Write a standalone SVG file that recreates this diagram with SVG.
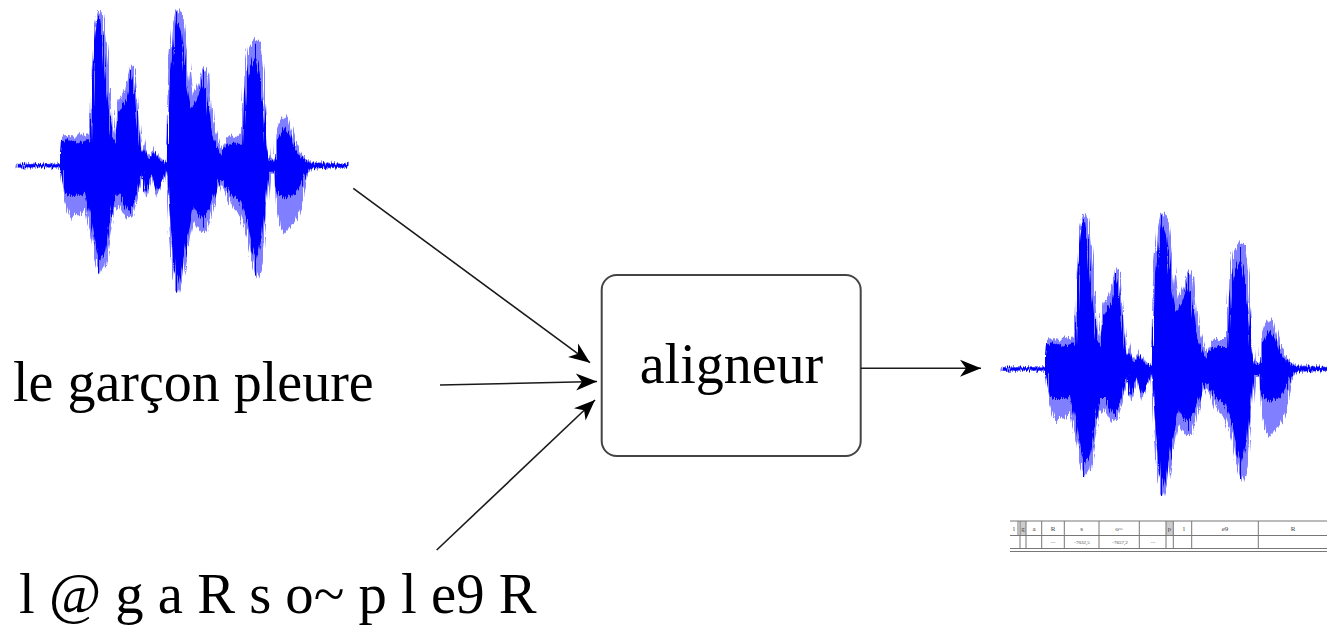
<svg xmlns="http://www.w3.org/2000/svg" width="1327" height="625" viewBox="0 0 1327 625">
<style>
.lbl{font-family:"Liberation Serif","Times New Roman",serif;font-size:56px;fill:#000}
.conn{stroke:#1a1a1a;stroke-width:1.6;fill:none}
.tl{stroke:#777;stroke-width:1;fill:none}
.tt{font-family:"Liberation Serif",serif;font-size:7px;fill:#444;text-anchor:middle}
.ts{font-family:"Liberation Serif",serif;font-size:5px;fill:#444;text-anchor:middle}
</style>
<defs>
<filter id="jag" x="-5%" y="-10%" width="110%" height="120%">
<feTurbulence type="fractalNoise" baseFrequency="0.9 0.015" numOctaves="2" seed="3" result="n"/>
<feDisplacementMap in="SourceGraphic" in2="n" scale="9" xChannelSelector="B" yChannelSelector="R"/>
</filter>
<filter id="jag2" x="-5%" y="-10%" width="110%" height="120%">
<feTurbulence type="fractalNoise" baseFrequency="0.7 0.015" numOctaves="2" seed="11" result="n"/>
<feDisplacementMap in="SourceGraphic" in2="n" scale="10" xChannelSelector="B" yChannelSelector="R"/>
</filter>
<marker id="ah" markerUnits="userSpaceOnUse" markerWidth="24" markerHeight="20" viewBox="-22 -10 24 20" refX="0" refY="0" orient="auto">
<path d="M0,0 L-21,-8.5 L-15,0 L-21,8.5 Z" fill="#000"/>
</marker>
<g id="wave">
<path fill="#7f7fff" filter="url(#jag2)" d="M6.7,-2 L50,-2 51.7,-30 56.7,-31 66.7,-30 76.7,-33 80,-30 81.7,-100 85,-140 88.3,-154 93.3,-150 96.7,-115 100,-80 101.7,-40 105,-30 108.3,-65 115,-75 120,-100 125,-98 128.3,-50 131.7,-15 135,-25 138.3,-10 145,-18 150,-8 156.7,-3 159.3,-100 163.3,-140 166.7,-156 173.3,-150 178.3,-100 181.7,-70 186.7,-80 193.3,-100 198.3,-90 201.7,-45 210,-15 215,-25 220,-30 231.7,-30 235,-100 238.3,-120 245,-126 250,-125 253.3,-90 256.7,-35 259.3,-6 265,-6 266.7,-35 270,-45 275,-52 280,-45 285,-25 291.7,-12 300,-4 338.3,-2 L338.3,2 301.7,3 296.7,10 291.7,40 286.7,55 280,60 275,68 270,62 266.7,35 265,8 259.3,8 256.7,40 251.7,100 246.7,113 241.7,95 236.7,70 230,50 221.7,42 215,25 210,18 200,55 196.7,66 190,66 183.3,55 178.3,80 173.3,110 168.3,129 163.3,115 159.3,60 156.7,5 146.7,30 143.3,10 135,33 131.7,8 128.3,30 123.3,50 116.7,53 110,40 105,45 100,70 95,100 89.3,110 85,95 80,65 75,45 66.7,50 60,52 55,35 51.7,15 50,2 6.7,2 Z"/>
<path fill="#0000ff" filter="url(#jag)" d="M6.7,-1.5 L50,-1.5 52,-26 60,-25 70,-23 78,-26 81,-23 84,-115 87,-146 90,-148 93,-125 96,-85 99,-55 102,-28 106,-23 109,-55 116,-65 121,-92 124,-85 127,-42 131,-11 135,-20 138,-7 145,-14 150,-5 157,-3 160,-88 164,-126 167,-146 171,-134 176,-86 181,-58 187,-66 193,-86 197,-70 201,-32 210,-11 216,-20 222,-22 233,-22 236,-74 240,-100 245,-108 249,-92 253,-62 256,-22 259,-5 265,-5 267,-27 271,-34 275,-38 280,-31 285,-16 292,-7 300,-3 338,-1.5 L338,1.5 301,2.5 296,8 291,20 286,28 280,30 275,32 270,30 267,20 265,6 259,6 256,30 252,70 247,95 242,80 237,55 230,35 222,30 215,20 210,14 201,40 196,50 190,52 184,40 179,65 174,95 169,120 164,105 160,50 157,4 147,25 143,8 135,28 132,6 128,25 123,40 117,45 110,30 105,30 100,55 95,85 90,100 85,80 80,50 75,28 67,30 60,30 55,28 52,12 50,1.5 6.7,1.5 Z"/>
<g stroke="#0000ff" stroke-width="1">
<line x1="88.5" y1="-150" x2="88.5" y2="108"/>
<line x1="166.5" y1="-154" x2="166.5" y2="127"/>
<line x1="245.5" y1="-122" x2="245.5" y2="110"/>
<line x1="120.5" y1="-96" x2="120.5" y2="48"/>
<line x1="193.5" y1="-96" x2="193.5" y2="62"/>
</g>
</g>
</defs>

<g id="wave-input">
<use href="#wave" transform="translate(10,165.7)"/>
</g>

<g id="wave-output">
<use href="#wave" transform="translate(995,369)"/>
</g>

<g id="text-orth">
<text class="lbl" x="13" y="401">le garçon pleure</text>
</g>

<g id="text-phon">
<text class="lbl" x="19" y="613" style="font-size:56.7px">l @ g a R s o~ p l e9 R</text>
</g>

<g id="aligneur">
<rect x="601.7" y="275" width="259" height="181" rx="15" ry="15" fill="#fff" stroke="#444" stroke-width="2"/>
<text class="lbl" x="731.5" y="383" text-anchor="middle">aligneur</text>
</g>

<g id="table">
<rect x="1020" y="521" width="6" height="14.5" fill="#ccc"/>
<rect x="1166" y="521" width="7.3" height="14.5" fill="#ccc"/>
<line class="tl" x1="1010" y1="521" x2="1327" y2="521"/>
<line class="tl" x1="1010" y1="535.5" x2="1327" y2="535.5"/>
<line class="tl" x1="1010" y1="548.5" x2="1327" y2="548.5"/>
<line class="tl" x1="1010" y1="551.5" x2="1327" y2="551.5"/>
<line class="tl" x1="1018" y1="521" x2="1018" y2="535.5"/>
<line class="tl" x1="1020" y1="521" x2="1020" y2="548.5"/>
<line class="tl" x1="1026" y1="521" x2="1026" y2="548.5"/>
<line class="tl" x1="1041.7" y1="521" x2="1041.7" y2="548.5"/>
<line class="tl" x1="1064.3" y1="521" x2="1064.3" y2="548.5"/>
<line class="tl" x1="1099" y1="521" x2="1099" y2="548.5"/>
<line class="tl" x1="1139.3" y1="521" x2="1139.3" y2="548.5"/>
<line class="tl" x1="1166" y1="521" x2="1166" y2="548.5"/>
<line class="tl" x1="1173.3" y1="521" x2="1173.3" y2="548.5"/>
<line class="tl" x1="1191.7" y1="521" x2="1191.7" y2="548.5"/>
<line class="tl" x1="1258.3" y1="521" x2="1258.3" y2="548.5"/>
<text class="tt" x="1014" y="531">l</text>
<text class="tt" x="1023" y="531">g</text>
<text class="tt" x="1034" y="531">a</text>
<text class="tt" x="1053" y="531">R</text>
<text class="tt" x="1081.5" y="531">s</text>
<text class="tt" x="1119" y="531">o~</text>
<text class="tt" x="1169.6" y="531">p</text>
<text class="tt" x="1184" y="531">l</text>
<text class="tt" x="1225" y="531">e9</text>
<text class="tt" x="1293" y="531">R</text>
<text class="ts" x="1053" y="544">---</text>
<text class="ts" x="1082" y="544">-7032,5</text>
<text class="ts" x="1120" y="544">-7657,2</text>
<text class="ts" x="1153" y="544">---</text>
</g>

<g id="connectors">
<line class="conn" x1="353.3" y1="188.3" x2="590" y2="362.7" marker-end="url(#ah)"/>
<line class="conn" x1="440" y1="385" x2="597" y2="381.5" marker-end="url(#ah)"/>
<line class="conn" x1="436.7" y1="550" x2="595" y2="400" marker-end="url(#ah)"/>
<line class="conn" x1="860.7" y1="368.3" x2="981" y2="368.3" marker-end="url(#ah)"/>
</g>
</svg>
